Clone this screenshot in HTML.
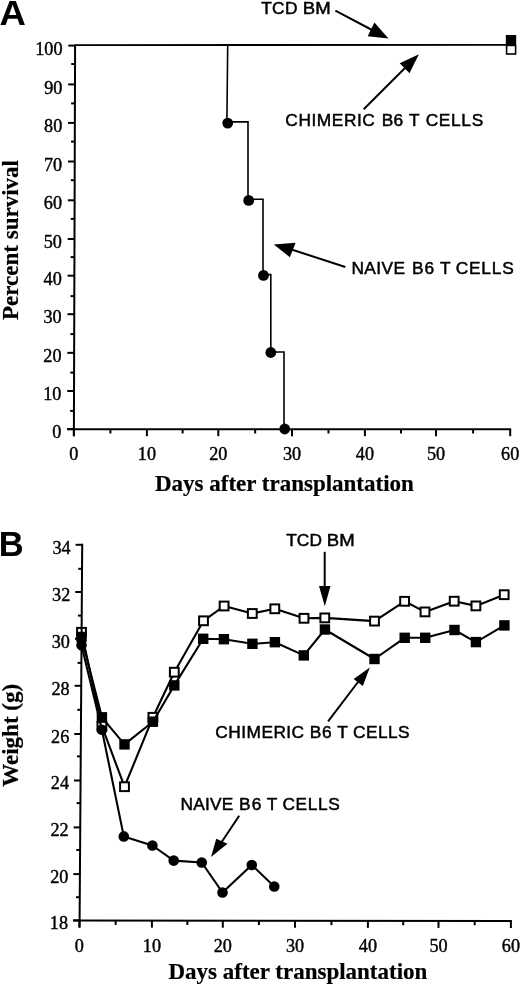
<!DOCTYPE html>
<html><head><meta charset="utf-8"><title>Figure</title>
<style>
html,body{margin:0;padding:0;background:#fff;}
body{width:520px;height:985px;overflow:hidden;}
svg{display:block;will-change:transform;}
.sn{font-family:"Liberation Sans",sans-serif;font-size:17.3px;stroke:#000;stroke-width:0.5px;}
.tk{font-family:"Liberation Serif",serif;font-size:18.2px;stroke:#000;stroke-width:0.4px;}
.tt{font-family:"Liberation Serif",serif;font-size:23px;font-weight:bold;stroke:#000;stroke-width:0.2px;}
.pl{font-family:"Liberation Sans",sans-serif;font-size:34.5px;font-weight:bold;}
</style></head>
<body>
<svg width="520" height="985" viewBox="0 0 520 985">
<rect width="520" height="985" fill="#fff"/>
<line x1="75.10" y1="44.6" x2="73.88" y2="436.3" stroke="#000" stroke-width="2.0"/>
<line x1="67.10" y1="429.10" x2="73.90" y2="429.10" stroke="#000" stroke-width="2.0"/>
<text x="61.30" y="438.20" text-anchor="end" class="tk">0</text>
<line x1="70.16" y1="410.90" x2="73.96" y2="410.90" stroke="#000" stroke-width="2.0"/>
<line x1="67.22" y1="391.00" x2="74.02" y2="391.00" stroke="#000" stroke-width="2.0"/>
<text x="61.42" y="400.10" text-anchor="end" class="tk">10</text>
<line x1="70.28" y1="372.60" x2="74.08" y2="372.60" stroke="#000" stroke-width="2.0"/>
<line x1="67.34" y1="352.85" x2="74.14" y2="352.85" stroke="#000" stroke-width="2.0"/>
<text x="61.54" y="361.95" text-anchor="end" class="tk">20</text>
<line x1="70.40" y1="334.10" x2="74.20" y2="334.10" stroke="#000" stroke-width="2.0"/>
<line x1="67.46" y1="314.20" x2="74.26" y2="314.20" stroke="#000" stroke-width="2.0"/>
<text x="61.66" y="323.30" text-anchor="end" class="tk">30</text>
<line x1="70.52" y1="296.10" x2="74.32" y2="296.10" stroke="#000" stroke-width="2.0"/>
<line x1="67.58" y1="275.70" x2="74.38" y2="275.70" stroke="#000" stroke-width="2.0"/>
<text x="61.78" y="284.80" text-anchor="end" class="tk">40</text>
<line x1="70.64" y1="257.10" x2="74.44" y2="257.10" stroke="#000" stroke-width="2.0"/>
<line x1="67.69" y1="239.00" x2="74.49" y2="239.00" stroke="#000" stroke-width="2.0"/>
<text x="61.89" y="248.10" text-anchor="end" class="tk">50</text>
<line x1="70.76" y1="218.90" x2="74.56" y2="218.90" stroke="#000" stroke-width="2.0"/>
<line x1="67.81" y1="200.30" x2="74.61" y2="200.30" stroke="#000" stroke-width="2.0"/>
<text x="62.01" y="209.40" text-anchor="end" class="tk">60</text>
<line x1="70.88" y1="180.20" x2="74.68" y2="180.20" stroke="#000" stroke-width="2.0"/>
<line x1="67.94" y1="161.50" x2="74.74" y2="161.50" stroke="#000" stroke-width="2.0"/>
<text x="62.14" y="170.60" text-anchor="end" class="tk">70</text>
<line x1="71.00" y1="141.60" x2="74.80" y2="141.60" stroke="#000" stroke-width="2.0"/>
<line x1="68.06" y1="122.90" x2="74.86" y2="122.90" stroke="#000" stroke-width="2.0"/>
<text x="62.26" y="132.00" text-anchor="end" class="tk">80</text>
<line x1="71.12" y1="103.40" x2="74.92" y2="103.40" stroke="#000" stroke-width="2.0"/>
<line x1="68.18" y1="84.40" x2="74.98" y2="84.40" stroke="#000" stroke-width="2.0"/>
<text x="62.38" y="93.50" text-anchor="end" class="tk">90</text>
<line x1="71.24" y1="64.00" x2="75.04" y2="64.00" stroke="#000" stroke-width="2.0"/>
<line x1="68.30" y1="45.60" x2="75.10" y2="45.60" stroke="#000" stroke-width="2.0"/>
<text x="62.50" y="54.70" text-anchor="end" class="tk">100</text>
<line x1="67.3" y1="429.2" x2="511.1" y2="429.3" stroke="#000" stroke-width="2.0"/>
<line x1="73.90" y1="429.2" x2="73.90" y2="436.20" stroke="#000" stroke-width="2.0"/>
<text x="73.90" y="460.1" text-anchor="middle" class="tk">0</text>
<line x1="110.40" y1="429.2" x2="110.40" y2="433.50" stroke="#000" stroke-width="2.0"/>
<line x1="146.90" y1="429.2" x2="146.90" y2="436.20" stroke="#000" stroke-width="2.0"/>
<text x="146.90" y="460.1" text-anchor="middle" class="tk">10</text>
<line x1="182.60" y1="429.2" x2="182.60" y2="433.50" stroke="#000" stroke-width="2.0"/>
<line x1="218.30" y1="429.2" x2="218.30" y2="436.20" stroke="#000" stroke-width="2.0"/>
<text x="218.30" y="460.1" text-anchor="middle" class="tk">20</text>
<line x1="255.15" y1="429.2" x2="255.15" y2="433.50" stroke="#000" stroke-width="2.0"/>
<line x1="292.00" y1="429.2" x2="292.00" y2="436.20" stroke="#000" stroke-width="2.0"/>
<text x="292.00" y="460.1" text-anchor="middle" class="tk">30</text>
<line x1="328.45" y1="429.2" x2="328.45" y2="433.50" stroke="#000" stroke-width="2.0"/>
<line x1="364.90" y1="429.2" x2="364.90" y2="436.20" stroke="#000" stroke-width="2.0"/>
<text x="364.90" y="460.1" text-anchor="middle" class="tk">40</text>
<line x1="401.00" y1="429.2" x2="401.00" y2="433.50" stroke="#000" stroke-width="2.0"/>
<line x1="436.00" y1="429.2" x2="436.00" y2="436.20" stroke="#000" stroke-width="2.0"/>
<text x="436.00" y="460.1" text-anchor="middle" class="tk">50</text>
<line x1="473.10" y1="429.2" x2="473.10" y2="433.50" stroke="#000" stroke-width="2.0"/>
<line x1="510.20" y1="429.2" x2="510.20" y2="436.20" stroke="#000" stroke-width="2.0"/>
<text x="510.20" y="460.1" text-anchor="middle" class="tk">60</text>
<text x="284.4" y="491.1" text-anchor="middle" class="tt">Days after transplantation</text>
<text transform="translate(18.2,240) rotate(-90)" text-anchor="middle" class="tt">Percent survival</text>
<text transform="translate(-0.4,25) scale(1.06,1)" class="pl">A</text>
<line x1="75" y1="45.1" x2="511" y2="44.9" stroke="#000" stroke-width="1.9"/>
<path d="M227.7,44.8 L226.9,121.9 L248.0,121.9 L248.0,199.2 L263.0,199.2 L263.0,274.6 L270.8,274.6 L270.8,352.0 L284.0,352.0 L284.0,429.0" fill="none" stroke="#000" stroke-width="1.6"/>
<circle cx="227.7" cy="123.1" r="5.4" fill="#000"/>
<circle cx="248.7" cy="200.4" r="5.4" fill="#000"/>
<circle cx="263.5" cy="275.4" r="5.4" fill="#000"/>
<circle cx="270.8" cy="352.5" r="5.4" fill="#000"/>
<circle cx="284.7" cy="429.0" r="5.4" fill="#000"/>
<rect x="506.6" y="45.4" width="9" height="8.6" fill="#fff" stroke="#000" stroke-width="1.6"/>
<rect x="505.8" y="35" width="10.4" height="10.4" fill="#000"/>
<text x="261.15" y="13.9" letter-spacing="0.350" class="sn">TCD</text>
<text transform="translate(302.85,13.9) scale(1.0736,1)" class="sn">BM</text>
<line x1="335.4" y1="10.65" x2="373" y2="30.5" stroke="#000" stroke-width="2.0"/>
<polygon points="388.5,38.6 374.4,22.5 367.7,36.2" fill="#000"/>
<text x="285.35" y="126.4" letter-spacing="0.571" class="sn">CHIMERIC</text>
<text x="381.85" y="126.4" letter-spacing="0.100" class="sn">B6</text>
<text x="409.10" y="126.4" class="sn">T</text>
<text x="425.65" y="126.4" letter-spacing="0.700" class="sn">CELLS</text>
<line x1="363.7" y1="109.3" x2="405" y2="68" stroke="#000" stroke-width="2.0"/>
<polygon points="418.9,54.2 399.7,63.2 409.5,73.3" fill="#000"/>
<text x="351.45" y="274.25" letter-spacing="0.450" class="sn">NAIVE</text>
<text x="411.95" y="274.25" letter-spacing="1.000" class="sn">B6</text>
<text x="440.00" y="274.25" class="sn">T</text>
<text x="455.65" y="274.25" letter-spacing="0.825" class="sn">CELLS</text>
<line x1="345.3" y1="267" x2="290" y2="249" stroke="#000" stroke-width="2.0"/>
<polygon points="273.8,244.5 295.6,242.8 289.9,257.2" fill="#000"/>
<text x="297.9" y="978.8" text-anchor="middle" class="tt">Days after transplantation</text>
<text transform="translate(18.2,735.3) rotate(-90)" text-anchor="middle" class="tt">Weight (g)</text>
<text x="-1.3" y="556.3" class="pl">B</text>
<polyline points="81.5,632.3 101.9,726.2 124.5,786.7 152.9,717.3 174.3,672.2 203.5,620.8 224.1,606.0 252.3,613.5 274.8,608.8 304.0,618.3 324.8,617.9 374.5,621.1 404.6,601.3 425.0,611.9 454.2,601.2 475.9,605.9 504.2,594.7" fill="none" stroke="#000" stroke-width="2.1" stroke-linejoin="round"/>
<rect x="77.10" y="627.90" width="8.8" height="8.8" fill="#fff" stroke="#000" stroke-width="2.0"/>
<rect x="97.50" y="721.80" width="8.8" height="8.8" fill="#fff" stroke="#000" stroke-width="2.0"/>
<rect x="120.10" y="782.30" width="8.8" height="8.8" fill="#fff" stroke="#000" stroke-width="2.0"/>
<rect x="148.50" y="712.90" width="8.8" height="8.8" fill="#fff" stroke="#000" stroke-width="2.0"/>
<rect x="169.90" y="667.80" width="8.8" height="8.8" fill="#fff" stroke="#000" stroke-width="2.0"/>
<rect x="199.10" y="616.40" width="8.8" height="8.8" fill="#fff" stroke="#000" stroke-width="2.0"/>
<rect x="219.70" y="601.60" width="8.8" height="8.8" fill="#fff" stroke="#000" stroke-width="2.0"/>
<rect x="247.90" y="609.10" width="8.8" height="8.8" fill="#fff" stroke="#000" stroke-width="2.0"/>
<rect x="270.40" y="604.40" width="8.8" height="8.8" fill="#fff" stroke="#000" stroke-width="2.0"/>
<rect x="299.60" y="613.90" width="8.8" height="8.8" fill="#fff" stroke="#000" stroke-width="2.0"/>
<rect x="320.40" y="613.50" width="8.8" height="8.8" fill="#fff" stroke="#000" stroke-width="2.0"/>
<rect x="370.10" y="616.70" width="8.8" height="8.8" fill="#fff" stroke="#000" stroke-width="2.0"/>
<rect x="400.20" y="596.90" width="8.8" height="8.8" fill="#fff" stroke="#000" stroke-width="2.0"/>
<rect x="420.60" y="607.50" width="8.8" height="8.8" fill="#fff" stroke="#000" stroke-width="2.0"/>
<rect x="449.80" y="596.80" width="8.8" height="8.8" fill="#fff" stroke="#000" stroke-width="2.0"/>
<rect x="471.50" y="601.50" width="8.8" height="8.8" fill="#fff" stroke="#000" stroke-width="2.0"/>
<rect x="499.80" y="590.30" width="8.8" height="8.8" fill="#fff" stroke="#000" stroke-width="2.0"/>
<polyline points="81.5,637.0 101.9,717.3 124.5,744.4 152.9,721.7 174.3,685.4 203.2,638.8 223.9,639.2 252.4,643.8 274.9,642.2 303.8,655.4 324.9,629.5 374.5,659.0 404.7,637.8 425.2,637.8 454.5,630.0 475.9,642.1 504.4,625.4" fill="none" stroke="#000" stroke-width="2.1" stroke-linejoin="round"/>
<rect x="76.30" y="631.80" width="10.4" height="10.4" fill="#000"/>
<rect x="96.70" y="712.10" width="10.4" height="10.4" fill="#000"/>
<rect x="119.30" y="739.20" width="10.4" height="10.4" fill="#000"/>
<rect x="147.70" y="716.50" width="10.4" height="10.4" fill="#000"/>
<rect x="169.10" y="680.20" width="10.4" height="10.4" fill="#000"/>
<rect x="198.00" y="633.60" width="10.4" height="10.4" fill="#000"/>
<rect x="218.70" y="634.00" width="10.4" height="10.4" fill="#000"/>
<rect x="247.20" y="638.60" width="10.4" height="10.4" fill="#000"/>
<rect x="269.70" y="637.00" width="10.4" height="10.4" fill="#000"/>
<rect x="298.60" y="650.20" width="10.4" height="10.4" fill="#000"/>
<rect x="319.70" y="624.30" width="10.4" height="10.4" fill="#000"/>
<rect x="369.30" y="653.80" width="10.4" height="10.4" fill="#000"/>
<rect x="399.50" y="632.60" width="10.4" height="10.4" fill="#000"/>
<rect x="420.00" y="632.60" width="10.4" height="10.4" fill="#000"/>
<rect x="449.30" y="624.80" width="10.4" height="10.4" fill="#000"/>
<rect x="470.70" y="636.90" width="10.4" height="10.4" fill="#000"/>
<rect x="499.20" y="620.20" width="10.4" height="10.4" fill="#000"/>
<polyline points="81.5,645.3 101.9,729.8 123.8,836.4 152.4,845.5 173.7,860.6 201.75,862.5 222.5,892.5 251.75,865.0 274.25,886.5" fill="none" stroke="#000" stroke-width="2.1" stroke-linejoin="round"/>
<circle cx="81.5" cy="645.3" r="5.3" fill="#000"/>
<circle cx="101.9" cy="729.8" r="5.3" fill="#000"/>
<circle cx="123.8" cy="836.4" r="5.3" fill="#000"/>
<circle cx="152.4" cy="845.5" r="5.3" fill="#000"/>
<circle cx="173.7" cy="860.6" r="5.3" fill="#000"/>
<circle cx="201.75" cy="862.5" r="5.3" fill="#000"/>
<circle cx="222.5" cy="892.5" r="5.3" fill="#000"/>
<circle cx="251.75" cy="865.0" r="5.3" fill="#000"/>
<circle cx="274.25" cy="886.5" r="5.3" fill="#000"/>
<line x1="82.21" y1="543.8" x2="79.55" y2="927.6" stroke="#000" stroke-width="2.0"/>
<line x1="73.00" y1="920.40" x2="79.60" y2="920.40" stroke="#000" stroke-width="2.0"/>
<text x="68.00" y="929.30" text-anchor="end" class="tk">18</text>
<line x1="75.96" y1="897.20" x2="79.76" y2="897.20" stroke="#000" stroke-width="2.0"/>
<line x1="73.32" y1="874.10" x2="79.92" y2="874.10" stroke="#000" stroke-width="2.0"/>
<text x="68.32" y="883.00" text-anchor="end" class="tk">20</text>
<line x1="76.29" y1="850.00" x2="80.09" y2="850.00" stroke="#000" stroke-width="2.0"/>
<line x1="73.64" y1="827.40" x2="80.24" y2="827.40" stroke="#000" stroke-width="2.0"/>
<text x="68.64" y="836.30" text-anchor="end" class="tk">22</text>
<line x1="76.61" y1="803.10" x2="80.41" y2="803.10" stroke="#000" stroke-width="2.0"/>
<line x1="73.97" y1="780.50" x2="80.57" y2="780.50" stroke="#000" stroke-width="2.0"/>
<text x="68.97" y="789.40" text-anchor="end" class="tk">24</text>
<line x1="76.94" y1="756.40" x2="80.74" y2="756.40" stroke="#000" stroke-width="2.0"/>
<line x1="74.29" y1="734.00" x2="80.89" y2="734.00" stroke="#000" stroke-width="2.0"/>
<text x="69.29" y="742.90" text-anchor="end" class="tk">26</text>
<line x1="77.26" y1="709.80" x2="81.06" y2="709.80" stroke="#000" stroke-width="2.0"/>
<line x1="74.63" y1="685.80" x2="81.23" y2="685.80" stroke="#000" stroke-width="2.0"/>
<text x="69.63" y="694.70" text-anchor="end" class="tk">28</text>
<line x1="77.58" y1="662.90" x2="81.38" y2="662.90" stroke="#000" stroke-width="2.0"/>
<line x1="74.95" y1="638.75" x2="81.55" y2="638.75" stroke="#000" stroke-width="2.0"/>
<text x="69.95" y="647.65" text-anchor="end" class="tk">30</text>
<line x1="77.91" y1="615.60" x2="81.71" y2="615.60" stroke="#000" stroke-width="2.0"/>
<line x1="75.27" y1="592.00" x2="81.87" y2="592.00" stroke="#000" stroke-width="2.0"/>
<text x="70.27" y="600.90" text-anchor="end" class="tk">32</text>
<line x1="78.24" y1="568.80" x2="82.04" y2="568.80" stroke="#000" stroke-width="2.0"/>
<line x1="75.60" y1="544.80" x2="82.20" y2="544.80" stroke="#000" stroke-width="2.0"/>
<text x="70.60" y="553.70" text-anchor="end" class="tk">34</text>
<line x1="73.3" y1="920.6" x2="511.9" y2="921.0" stroke="#000" stroke-width="2.0"/>
<line x1="79.40" y1="920.60" x2="79.40" y2="927.60" stroke="#000" stroke-width="2.0"/>
<text x="79.40" y="951.7" text-anchor="middle" class="tk">0</text>
<line x1="115.65" y1="920.63" x2="115.65" y2="924.93" stroke="#000" stroke-width="2.0"/>
<line x1="151.90" y1="920.67" x2="151.90" y2="927.67" stroke="#000" stroke-width="2.0"/>
<text x="151.90" y="951.7" text-anchor="middle" class="tk">10</text>
<line x1="187.35" y1="920.70" x2="187.35" y2="925.00" stroke="#000" stroke-width="2.0"/>
<line x1="222.80" y1="920.73" x2="222.80" y2="927.73" stroke="#000" stroke-width="2.0"/>
<text x="222.80" y="951.7" text-anchor="middle" class="tk">20</text>
<line x1="258.90" y1="920.77" x2="258.90" y2="925.07" stroke="#000" stroke-width="2.0"/>
<line x1="295.00" y1="920.80" x2="295.00" y2="927.80" stroke="#000" stroke-width="2.0"/>
<text x="295.00" y="951.7" text-anchor="middle" class="tk">30</text>
<line x1="331.45" y1="920.83" x2="331.45" y2="925.13" stroke="#000" stroke-width="2.0"/>
<line x1="367.90" y1="920.87" x2="367.90" y2="927.87" stroke="#000" stroke-width="2.0"/>
<text x="367.90" y="951.7" text-anchor="middle" class="tk">40</text>
<line x1="403.20" y1="920.90" x2="403.20" y2="925.20" stroke="#000" stroke-width="2.0"/>
<line x1="438.50" y1="920.93" x2="438.50" y2="927.93" stroke="#000" stroke-width="2.0"/>
<text x="438.50" y="951.7" text-anchor="middle" class="tk">50</text>
<line x1="474.70" y1="920.97" x2="474.70" y2="925.27" stroke="#000" stroke-width="2.0"/>
<line x1="510.90" y1="921.00" x2="510.90" y2="928.00" stroke="#000" stroke-width="2.0"/>
<text x="510.90" y="951.7" text-anchor="middle" class="tk">60</text>
<text x="286.15" y="545.5" letter-spacing="0.100" class="sn">TCD</text>
<text transform="translate(326.85,545.5) scale(1.0736,1)" class="sn">BM</text>
<line x1="324.7" y1="551.8" x2="324.7" y2="590" stroke="#000" stroke-width="2.0"/>
<polygon points="319.0,586.0 330.5,586.0 324.8,606.3" fill="#000"/>
<text x="215.35" y="738.15" letter-spacing="0.471" class="sn">CHIMERIC</text>
<text x="309.65" y="738.15" letter-spacing="0.800" class="sn">B6</text>
<text x="337.25" y="738.15" class="sn">T</text>
<text x="352.95" y="738.15" letter-spacing="0.475" class="sn">CELLS</text>
<line x1="328.1" y1="721.3" x2="358" y2="682" stroke="#000" stroke-width="2.0"/>
<polygon points="369.8,667.5 353.6,678.9 362.8,686.1" fill="#000"/>
<text x="180.55" y="810.15" letter-spacing="0.200" class="sn">NAIVE</text>
<text x="239.05" y="810.15" letter-spacing="1.100" class="sn">B6</text>
<text x="266.85" y="810.15" class="sn">T</text>
<text x="282.45" y="810.15" letter-spacing="0.625" class="sn">CELLS</text>
<line x1="239.2" y1="815.7" x2="221" y2="843" stroke="#000" stroke-width="2.0"/>
<polygon points="211.0,857.0 216.25,838.75 227.5,843.75" fill="#000"/>
</svg>
</body></html>
